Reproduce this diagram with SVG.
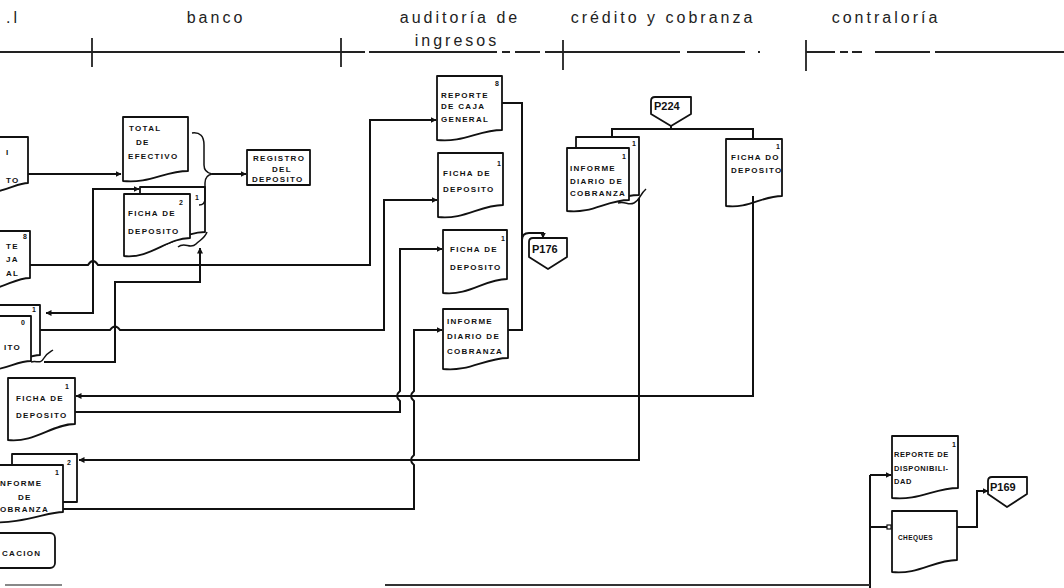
<svg xmlns="http://www.w3.org/2000/svg" width="1064" height="588" viewBox="0 0 1064 588">
<defs>
<marker id="arr" viewBox="0 0 6 6" refX="5.5" refY="3" markerWidth="6" markerHeight="6" markerUnits="userSpaceOnUse" orient="auto-start-reverse"><path d="M0,0 L6,3 L0,6 Z" fill="#111"/></marker>
<marker id="sq" viewBox="0 0 6 6" refX="5" refY="3" markerWidth="6" markerHeight="6" markerUnits="userSpaceOnUse" orient="auto"><rect x="1" y="1" width="4" height="4" fill="#fff" stroke="#111" stroke-width="1.2"/></marker>
</defs>
<style>
.bg{fill:#fff}
.hd{font-family:"Liberation Sans",Arial,sans-serif;font-size:16px;fill:#222;letter-spacing:3px}
.hl{stroke:#222;stroke-width:1.8;fill:none}
.doc{fill:#fff;stroke:#111;stroke-width:1.8;stroke-linejoin:round}
.t{font-family:"Liberation Sans",Arial,sans-serif;font-weight:bold;font-size:8px;letter-spacing:1.3px;fill:#111}
.n{font-family:"Liberation Sans",Arial,sans-serif;font-weight:bold;font-size:7px;fill:#111}
.p{font-family:"Liberation Sans",Arial,sans-serif;font-weight:bold;font-size:11px;fill:#111}
.c{fill:none;stroke:#111;stroke-width:2;stroke-linejoin:miter}
.ca{fill:none;stroke:#111;stroke-width:2;marker-end:url(#arr)}
.sq{fill:none;stroke:#111;stroke-width:1.5}
</style>
<rect class="bg" x="0" y="0" width="1064" height="588"/>

<g id="header">
<text class="hd" x="6" y="23">.l</text>
<text class="hd" x="216" y="23" text-anchor="middle">banco</text>
<text class="hd" x="460" y="23" text-anchor="middle">auditoría de</text>
<text class="hd" x="457" y="46" text-anchor="middle">ingresos</text>
<text class="hd" x="663" y="23" text-anchor="middle">crédito y cobranza</text>
<text class="hd" x="886" y="23" text-anchor="middle">contraloría</text>
<path class="hl" d="M0,52 H365 M369,52 H497 M502,52 H510 M515,52 H540 M545,52 H555 M555,52 H680 M687,52 H745 M758,52 H760 M806,52 H835 M840,52 H848 M852,52 H862 M875,52 H930 M935,52 H1064"/>
<path class="hl" d="M92,38 V67 M341,38 V67 M563,40 V70 M806,40 V71" stroke-width="2"/>
</g>

<g id="left-deposito">
<path class="doc" d="M-20,137 H28 V183 C15,183 5,194 -20,192 Z"/>
<text class="t" x="6" y="155">I</text>
<text class="t" x="6" y="183">TO</text>
</g>

<g id="left-reporte-caja">
<path class="doc" d="M-20,231 H30 V278 C13,278 2,291 -20,289 Z"/>
<text class="n" x="23" y="239">8</text>
<text class="t" x="6" y="249">TE</text>
<text class="t" x="6" y="262">JA</text>
<text class="t" x="6" y="276">AL</text>
</g>

<g id="left-ficha-stack">
<path class="doc" d="M-20,305 H40 V355 C25,356 10,366 -20,364 Z"/>
<text class="n" x="32" y="312">1</text>
<path class="doc" d="M-20,316 H31 V361 C15,361 4,372 -20,370 Z"/>
<text class="n" x="21" y="325">0</text>
<text class="t" x="4" y="350">ITO</text>
</g>

<g id="left-ficha">
<path class="doc" d="M8,378 H75 V424 C52,424 35,443 8,440 Z"/>
<text class="n" x="65" y="389">1</text>
<text class="t" x="16" y="401">FICHA DE</text>
<text class="t" x="16" y="418">DEPOSITO</text>
</g>

<g id="left-informe-stack">
<path class="doc" d="M12,470 V454 H77 V502 H60"/>
<text class="n" x="67" y="465">2</text>
<path class="doc" d="M-20,465 H63 V512 C45,512 25,525 -20,522 Z"/>
<text class="n" x="55" y="475">1</text>
<text class="t" x="0" y="486">NFORME</text>
<text class="t" x="18" y="500">DE</text>
<text class="t" x="0" y="512">OBRANZA</text>
</g>

<g id="left-cacion">
<rect class="doc" x="-20" y="533" width="75" height="35" rx="5"/>
<text class="t" x="2" y="556">CACION</text>
</g>

<g id="total-efectivo">
<path class="doc" d="M123,117 H188 V171 C165,171 149,184 123,181 Z"/>
<text class="t" x="129" y="131">TOTAL</text>
<text class="t" x="136" y="145">DE</text>
<text class="t" x="128" y="159">EFECTIVO</text>
</g>

<g id="ficha-banco">
<path class="doc" d="M140,187 H205 V232 C182,232 166,251 140,248 Z"/>
<text class="n" x="195" y="200">1</text>
<path class="doc" d="M124,194 H190 V238 C167,238 150,259 124,256 Z"/>
<text class="n" x="179" y="205">2</text>
<text class="t" x="128" y="216">FICHA DE</text>
<text class="t" x="128" y="234">DEPOSITO</text>
<path class="sq" d="M178,247 C185,241 190,250 196,244 C200,240 205,238 207,232"/>
</g>

<g id="registro-deposito">
<rect class="doc" x="247" y="150" width="63" height="35"/>
<text class="t" x="253" y="161">REGISTRO</text>
<text class="t" x="272" y="172">DEL</text>
<text class="t" x="252" y="182">DEPOSITO</text>
</g>

<g id="reporte-caja-general">
<path class="doc" d="M437,76 H502 V130 C479,130 463,143 437,140 Z"/>
<text class="n" x="495" y="86">8</text>
<text class="t" x="441" y="98">REPORTE</text>
<text class="t" x="441" y="109">DE CAJA</text>
<text class="t" x="441" y="122">GENERAL</text>
</g>

<g id="ficha-aud-1">
<path class="doc" d="M438,153 H503 V205 C480,205 464,220 438,217 Z"/>
<text class="n" x="497" y="166">1</text>
<text class="t" x="443" y="176">FICHA DE</text>
<text class="t" x="443" y="192">DEPOSITO</text>
</g>

<g id="ficha-aud-2">
<path class="doc" d="M443,230 H507 V279 C485,279 469,296 443,293 Z"/>
<text class="n" x="501" y="241">1</text>
<text class="t" x="450" y="252">FICHA DE</text>
<text class="t" x="450" y="270">DEPOSITO</text>
</g>

<g id="informe-aud">
<path class="doc" d="M443,309 H508 V358 C485,358 469,372 443,369 Z"/>
<text class="t" x="447" y="324">INFORME</text>
<text class="t" x="447" y="339">DIARIO DE</text>
<text class="t" x="447" y="354">COBRANZA</text>
</g>

<g id="p176">
<path class="doc" d="M533,238 H567 V257 L548,269 L529,257 V242 Q529,238 533,238 Z"/>
<text class="p" x="532" y="253">P176</text>
</g>

<g id="p224">
<path class="doc" d="M655,97 H691 V114 L671,126 L651,114 V101 Q651,97 655,97 Z"/>
<text class="p" x="654" y="110">P224</text>
</g>

<g id="informe-credito">
<path class="doc" d="M576,137 H639 V195 C617,195 601,208 576,205 Z"/>
<text class="n" x="632" y="146">1</text>
<path class="doc" d="M567,148 H629 V200 C607,200 592,214 567,211 Z"/>
<text class="n" x="622" y="159">1</text>
<text class="t" x="570" y="171">INFORME</text>
<text class="t" x="570" y="184">DIARIO DE</text>
<text class="t" x="570" y="196">COBRANZA</text>
<path class="sq" d="M618,203 C626,201 628,206 634,203 C640,200 640,194 646,189"/>
</g>

<g id="ficha-credito">
<path class="doc" d="M726,139 H782 V196 C762,196 748,209 726,206 Z"/>
<text class="n" x="776" y="149">1</text>
<text class="t" x="731" y="160">FICHA DO</text>
<text class="t" x="731" y="173">DEPOSITO</text>
</g>

<g id="reporte-disponibilidad">
<path class="doc" d="M892,436 H958 V488 C935,488 918,501 892,498 Z"/>
<text class="n" x="952" y="447">1</text>
<text class="t" x="894" y="457" style="font-size:7.5px;letter-spacing:0.6px">REPORTE DE</text>
<text class="t" x="894" y="471" style="font-size:7.5px;letter-spacing:0.6px">DISPONIBILI-</text>
<text class="t" x="894" y="484" style="font-size:7.5px;letter-spacing:0.6px">DAD</text>
</g>

<g id="cheques">
<path class="doc" d="M892,511 H957 V560 C934,560 918,575 892,572 Z"/>
<text class="t" x="898" y="540" style="font-size:6.5px;letter-spacing:0.4px">CHEQUES</text>
</g>

<g id="p169">
<path class="doc" d="M992,477 H1027 V494 L1007,507 L988,494 V481 Q988,477 992,477 Z"/>
<text class="p" x="990" y="491">P169</text>
</g>

<g id="connectors">
<path class="ca" d="M28,174 H121"/>
<path class="sq" d="M192,133 C200,132 204,136 204,145 V165 C204,170 207,173 212,174 C207,175 205,178 205,183 V199 C205,203 203,205 199,205"/>
<path class="ca" d="M212,174 H246"/>
<path class="ca" d="M30,265 H88 Q93,257 98,265 H370 V120 H436"/>
<path class="c" d="M46,313 H93 V189 H139" marker-start="url(#arr)" marker-end="url(#arr)"/>
<path class="ca" d="M40,330 H110 Q115,323 120,330 H384 V200 H437"/>
<path class="sq" d="M31,362 C37,360 40,365 44,358 C47,353 50,352 53,350"/>
<path class="ca" d="M44,362 H115 V282 H200 V248"/>
<path class="ca" d="M753,196 V396 H76"/>
<path class="ca" d="M75,412 H400 V401 Q394,396 400,391 V249 H442"/>
<path class="ca" d="M639,198 V460 H79"/>
<path class="ca" d="M63,509 H414 V465 Q408,460 414,455 V401 Q408,396 414,391 V330 H442"/>
<path class="c" d="M502,103 H522 V330 H508"/>
<path class="ca" d="M522,240 Q522,233 529,233 H543 V238"/>
<path class="c" d="M671,126 V129"/>
<path class="c" d="M612,137 V129 H753 V139"/>
<path class="c" d="M870,588 V475"/>
<path class="ca" d="M870,475 H891"/>
<path class="c" d="M870,527 H891" marker-end="url(#sq)"/>
<path class="ca" d="M957,527 H977 V491 H988"/>
<path d="M385,585 H870" stroke="#333" stroke-width="2" fill="none"/>
<path d="M5,585 H62" stroke="#888" stroke-width="2" fill="none"/>
</g>
</svg>
